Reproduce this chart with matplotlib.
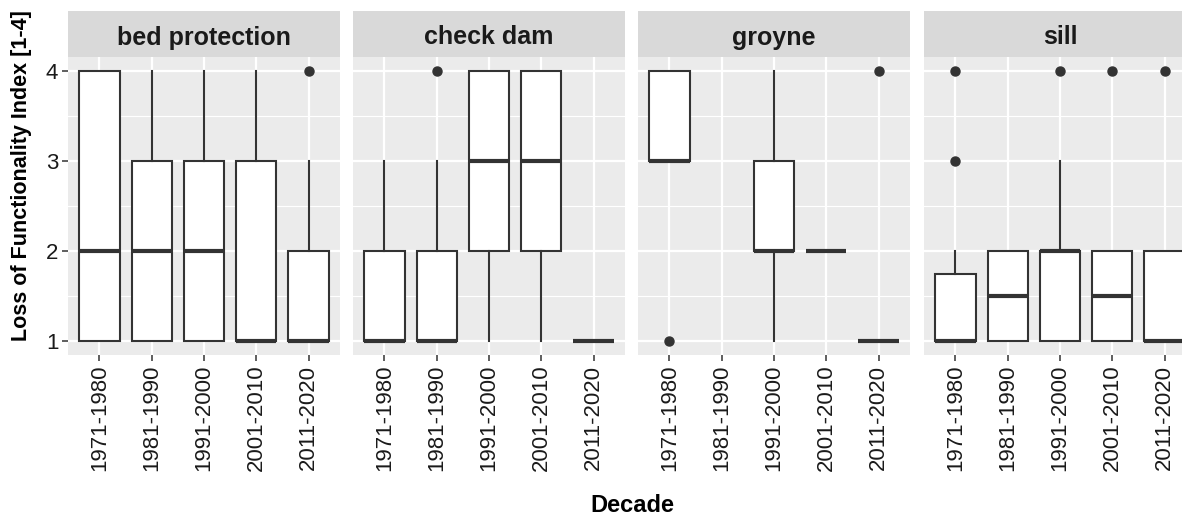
import matplotlib
matplotlib.use("Agg")
import matplotlib.pyplot as plt
from matplotlib.ticker import FixedLocator

plt.rcParams["font.family"] = ["Liberation Sans", "DejaVu Sans"]

facets = ["bed protection", "check dam", "groyne", "sill"]
decades = ["1971-1980", "1981-1990", "1991-2000", "2001-2010", "2011-2020"]

# Box statistics per facet (rows) and decade (columns); None = no observations
whisker_low = [
    [1, 1, 1, 1, 1],
    [1, 1, 1, 1, 1],
    [3, None, 1, 2, 1],
    [1, 1, 1, 1, 1],
]
q1 = [
    [1, 1, 1, 1, 1],
    [1, 1, 2, 2, 1],
    [3, None, 2, 2, 1],
    [1, 1, 1, 1, 1],
]
median = [
    [2, 2, 2, 1, 1],
    [1, 1, 3, 3, 1],
    [3, None, 2, 2, 1],
    [1, 1.5, 2, 1.5, 1],
]
q3 = [
    [4, 3, 3, 3, 2],
    [2, 2, 4, 4, 1],
    [4, None, 3, 2, 1],
    [1.75, 2, 2, 2, 2],
]
whisker_high = [
    [4, 4, 4, 4, 3],
    [3, 3, 4, 4, 1],
    [4, None, 4, 2, 1],
    [2, 2, 3, 2, 2],
]
outliers = [
    [[], [], [], [], [4]],
    [[], [4], [], [], []],
    [[1], [], [], [], [4]],
    [[3, 4], [], [4], [4], [4]],
]

W, H = 1182, 516
fig = plt.figure(figsize=(W / 100, H / 100), dpi=100)

panel_left = [68, 353, 638, 924]
panel_w = 272
panel_top, panel_bot = 57, 355
strip_top = 11

line_col = "#333333"
text_col = "#1A1A1A"
for i, name in enumerate(facets):
    x0 = panel_left[i]
    ax = fig.add_axes([x0 / W, (H - panel_bot) / H, panel_w / W, (panel_bot - panel_top) / H])
    ax.set_facecolor("#EBEBEB")
    for s in ax.spines.values():
        s.set_visible(False)
    ax.set_xlim(0.4, 5.6)
    ax.set_ylim(0.85, 4.15)
    ax.set_axisbelow(True)
    ax.yaxis.set_major_locator(FixedLocator([1, 2, 3, 4]))
    ax.yaxis.set_minor_locator(FixedLocator([1.5, 2.5, 3.5]))
    ax.set_xticks(range(1, 6))
    ax.grid(which="major", color="white", linewidth=1.6)
    ax.grid(which="minor", axis="y", color="white", linewidth=0.8)

    stats, pos = [], []
    for j in range(len(decades)):
        if median[i][j] is None:
            continue
        stats.append(dict(whislo=whisker_low[i][j], q1=q1[i][j], med=median[i][j],
                          q3=q3[i][j], whishi=whisker_high[i][j], fliers=outliers[i][j]))
        pos.append(j + 1)
    ax.bxp(stats, positions=pos, widths=0.77, patch_artist=True, showcaps=False,
           boxprops=dict(facecolor="white", edgecolor=line_col, linewidth=1.5),
           medianprops=dict(color=line_col, linewidth=3.0, solid_capstyle="butt"),
           whiskerprops=dict(color=line_col, linewidth=1.5),
           flierprops=dict(marker="o", markerfacecolor=line_col, markeredgecolor=line_col,
                           markersize=6.5),
           manage_ticks=False, zorder=3)

    ax.set_xticks(range(1, 6))
    ax.set_xticklabels(decades, rotation=90, fontsize=16, color=text_col)
    ax.tick_params(axis="x", length=4, width=1.1, color=line_col, pad=3)
    ax.tick_params(which="minor", length=0)
    if i == 0:
        ax.set_yticklabels(["1", "2", "3", "4"], fontsize=16, color=text_col)
        ax.tick_params(axis="y", length=4, width=1.1, color=line_col, pad=3)
    else:
        ax.tick_params(axis="y", which="both", length=0, labelleft=False)

    sax = fig.add_axes([x0 / W, (H - panel_top) / H, panel_w / W, (panel_top - strip_top) / H])
    sax.set_facecolor("#D9D9D9")
    for s in sax.spines.values():
        s.set_visible(False)
    sax.set_xticks([])
    sax.set_yticks([])
    fig.text((x0 + panel_w / 2) / W, 1 - 44.5 / H, name, ha="center", va="baseline",
             fontsize=18, fontweight="bold", color=text_col)

fig.text(632 / W, 1 - 505 / H, "Decade", ha="center", va="center",
         fontsize=17, fontweight="bold", color="#000000")
fig.text(22 / W, 1 - 176 / H, "Loss of Functionality Index [1-4]", ha="center",
         va="center", rotation=90, fontsize=15.5, fontweight="bold", color="#000000")

fig.savefig("out.png", dpi=100, facecolor="white")
